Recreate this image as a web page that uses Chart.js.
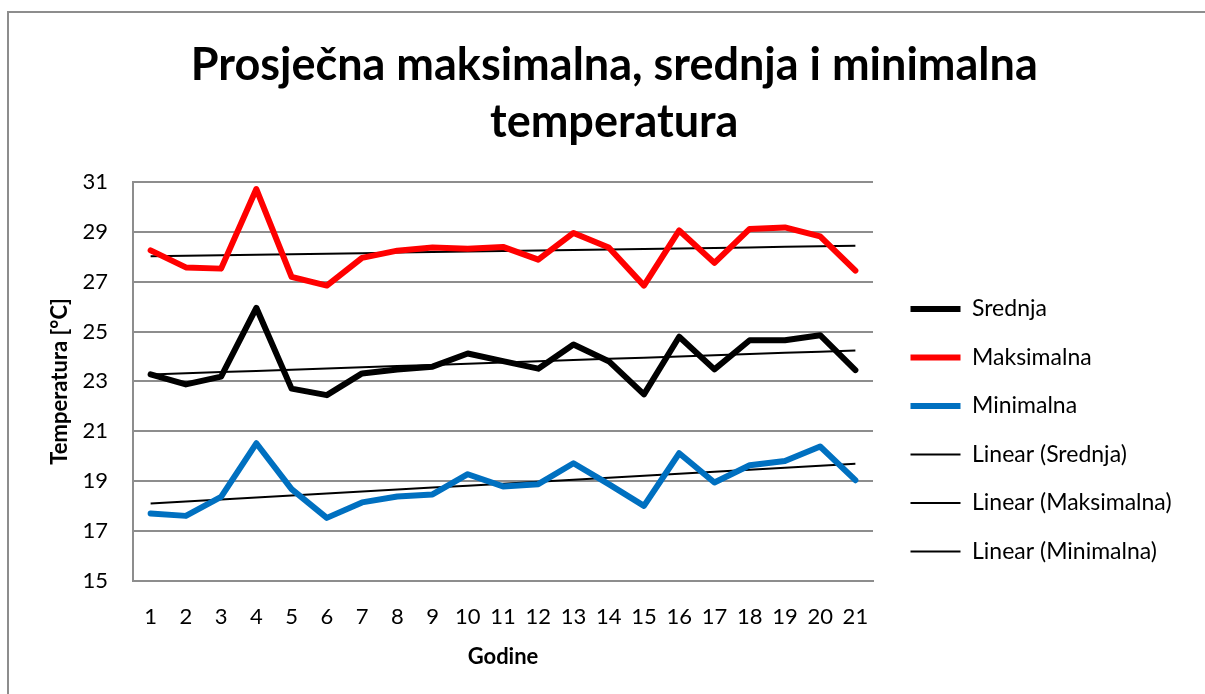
<!DOCTYPE html>
<html>
<head>
<meta charset="utf-8">
<script src="https://cdn.jsdelivr.net/npm/chart.js@4.4.1/dist/chart.umd.min.js"></script>
<style>
  html, body { margin: 0; padding: 0; background: #fff; }
  .okvir { position: absolute; left: 7px; top: 11px; width: 1230px; height: 720px; border: 2px solid #8d8d8d; box-sizing: border-box; }
  .platno { position: absolute; left: 0; top: 0; width: 1205px; height: 694px; }
</style>
</head>
<body>
<div class="okvir"></div>
<div class="platno"><canvas id="grafikon" width="1205" height="694"></canvas></div>
<script>
// podaci ocitani sa grafika
const godine = ['1','2','3','4','5','6','7','8','9','10','11','12','13','14','15','16','17','18','19','20','21'];
const srednja = [23.28, 22.88, 23.19, 25.95, 22.71, 22.45, 23.32, 23.48, 23.59, 24.12, 23.81, 23.51, 24.48, 23.81, 22.48, 24.79, 23.48, 24.65, 24.65, 24.85, 23.45];
const maksimalna = [28.25, 27.57, 27.52, 30.71, 27.19, 26.84, 27.95, 28.24, 28.37, 28.32, 28.39, 27.88, 28.95, 28.37, 26.84, 29.05, 27.75, 29.11, 29.17, 28.81, 27.44];
const minimalna = [17.71, 17.61, 18.37, 20.52, 18.68, 17.53, 18.15, 18.39, 18.47, 19.28, 18.79, 18.88, 19.72, 18.88, 18.01, 20.12, 18.95, 19.64, 19.81, 20.39, 19.04];
const yMin = 15, yMax = 31, yKorak = 2;

const font = 'Lato';
const velicina = 22;
const legendaVelicina = 23;
const razmakLegende = 25.5;
const linijaLegende = 50;

// linearni trend (najmanji kvadrati), kao Excel trendline
function linearniTrend(niz) {
    const n = niz.length;
    let sx = 0, sy = 0, sxy = 0, sxx = 0;
    niz.forEach((v, i) => {
        const x = i + 1;
        sx += x; sy += v; sxy += x * v; sxx += x * x;
    });
    const k = (n * sxy - sx * sy) / (n * sxx - sx * sx);
    const b = (sy - k * sx) / n;
    return niz.map((v, i) => k * (i + 1) + b);
}

function serija(naziv, podaci, boja) {
    return {
        label: naziv,
        data: podaci,
        borderColor: boja,
        backgroundColor: boja,
        borderWidth: 6,
        borderCapStyle: 'round',
        borderJoinStyle: 'round',
        pointRadius: 0,
        pointStyle: 'line',
        tension: 0,
        fill: false
    };
}

function trend(naziv, podaci) {
    return {
        label: naziv,
        data: linearniTrend(podaci),
        borderColor: '#000',
        backgroundColor: '#000',
        borderWidth: 2,
        pointRadius: 0,
        pointStyle: 'line',
        tension: 0,
        fill: false
    };
}

const skupovi = [
    serija('Srednja', srednja, '#000000'),
    serija('Maksimalna', maksimalna, '#ff0000'),
    serija('Minimalna', minimalna, '#0070c0'),
    trend('Linear (Srednja)', srednja),
    trend('Linear (Maksimalna)', maksimalna),
    trend('Linear (Minimalna)', minimalna)
];

// sirina legende da desna ivica grafika ostane na mjestu
const mjera = document.createElement('canvas').getContext('2d');
mjera.font = legendaVelicina + 'px ' + font;
const najduzi = Math.max(...skupovi.map(s => mjera.measureText(s.label).width));
const sirinaLegende = razmakLegende + linijaLegende + legendaVelicina / 2 + najduzi + 10;
const desniRub = Math.max(0, 1205 - 885 - sirinaLegende);

const ctx = document.getElementById('grafikon').getContext('2d');

Chart.defaults.color = '#000';
Chart.defaults.font.family = font;

new Chart(ctx, {
    type: 'line',
    data: {
        labels: godine,
        datasets: skupovi
    },
    options: {
        responsive: false,
        animation: false,
        layout: {
            padding: { left: 47, right: desniRub, top: 0, bottom: 20 }
        },
        plugins: {
            tooltip: { enabled: false },
            title: {
                display: true,
                text: ['Prosječna maksimalna, srednja i minimalna', 'temperatura'],
                font: { family: font, size: 45, weight: 'bold', lineHeight: 1.27 },
                color: '#000',
                padding: { top: 36.5, bottom: 31 }
            },
            legend: {
                display: true,
                position: 'right',
                align: 'center',
                maxWidth: 500,
                title: {
                    display: true,
                    text: ' ',
                    font: { size: 10, lineHeight: 1.2 },
                    padding: { top: 0, bottom: 174.5 }
                },
                labels: {
                    usePointStyle: true,
                    pointStyleWidth: linijaLegende,
                    padding: razmakLegende,
                    color: '#000',
                    font: { family: font, size: legendaVelicina }
                }
            }
        },
        scales: {
            x: {
                type: 'category',
                offset: true,
                grid: { display: false, drawTicks: false },
                border: { display: true, color: '#8d8d8d', width: 2 },
                ticks: {
                    color: '#000',
                    font: { family: font, size: velicina },
                    padding: 23,
                    maxRotation: 0,
                    autoSkip: false
                },
                title: {
                    display: true,
                    text: 'Godine',
                    color: '#000',
                    font: { family: font, size: velicina, weight: 'bold' },
                    padding: { top: 15, bottom: 4 }
                },
                afterFit: (osa) => { osa.height = 93; }
            },
            y: {
                min: yMin,
                max: yMax,
                grid: { color: '#8d8d8d', lineWidth: 2, drawTicks: false },
                border: { display: true, color: '#8d8d8d', width: 2 },
                ticks: {
                    stepSize: yKorak,
                    color: '#000',
                    font: { family: font, size: velicina },
                    padding: 25
                },
                title: {
                    display: true,
                    text: 'Temperatura [°C]',
                    color: '#000',
                    font: { family: font, size: velicina, weight: 'bold' },
                    padding: { top: 0, bottom: 14 }
                },
                afterFit: (osa) => { osa.width = 86; }
            },
            // prazna osa kao razmak izmedju grafika i legende
            razmak: {
                type: 'linear',
                position: 'right',
                display: true,
                grid: { display: false },
                border: { display: false },
                ticks: { display: false },
                afterFit: (osa) => { osa.width = 12; }
            }
        }
    }
});
</script>
</body>
</html>
